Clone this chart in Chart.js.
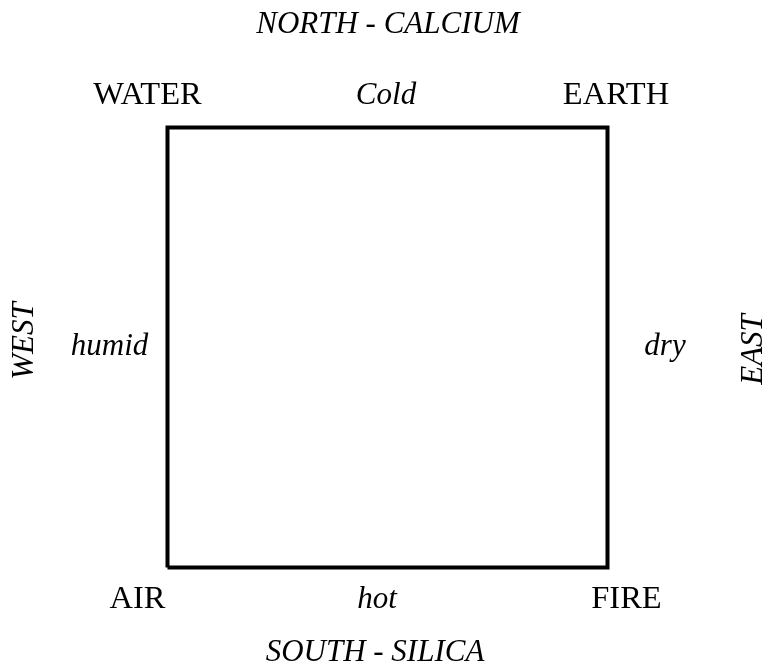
<!DOCTYPE html>
<html>
<head>
<meta charset="utf-8">
<script src="https://cdn.jsdelivr.net/npm/chart.js@4.4.1/dist/chart.umd.min.js"></script>
<style>
    html, body { margin: 0; padding: 0; background: #fff; }
    #box { width: 765px; height: 666px; }
</style>
</head>
<body>
<div id="box"><canvas id="c"></canvas></div>
<script>
    // square outline, corners in data units
    var squareX = [0, 1, 1, 0, 0];
    var squareY = [0, 0, 1, 1, 0];

    // corner elements: bottom-left, bottom-right, top-right, top-left
    var corners = ["AIR", "FIRE", "EARTH", "WATER"];
    // qualities on each side: top, bottom, left, right
    var qualities = ["Cold", "hot", "humid", "dry"];
    // compass labels: top, bottom, left, right
    var directions = ["NORTH - CALCIUM", "SOUTH - SILICA", "WEST", "EAST"];

    var points = [];
    for (var i = 0; i < squareX.length; i++) {
        points.push({x: squareX[i], y: squareY[i]});
    }

    var FONT = '"Liberation Serif", "Times New Roman", serif';

    var labelsPlugin = {
        id: 'labels',
        afterDraw: function (chart) {
            var ctx = chart.ctx;
            var sx = chart.scales.x, sy = chart.scales.y;
            var x0 = sx.getPixelForValue(0), x1 = sx.getPixelForValue(1);
            var y0 = sy.getPixelForValue(0), y1 = sy.getPixelForValue(1);
            var ym = (y0 + y1) / 2;

            function txt(s, x, y, italic, rot) {
                ctx.save();
                ctx.fillStyle = '#000';
                ctx.font = italic ? 'italic 31px ' + FONT : '32.5px ' + FONT;
                ctx.textAlign = 'center';
                ctx.textBaseline = 'alphabetic';
                ctx.translate(x, y);
                if (rot) ctx.rotate(rot);
                ctx.fillText(s, 0, 0);
                ctx.restore();
            }

            // corners
            txt(corners[0], x0 - 30, y0 + 40, false);
            txt(corners[1], x1 + 19, y0 + 40, false);
            txt(corners[2], x1 + 8.5, y1 - 23.5, false);
            txt(corners[3], x0 - 20, y1 - 23.5, false);

            // qualities
            txt(qualities[0], 386, y1 - 23.5, true);
            txt(qualities[1], 377, y0 + 40, true);
            txt(qualities[2], x0 - 58, ym + 7.5, true);
            txt(qualities[3], x1 + 57.5, ym + 7.5, true);

            // directions
            txt(directions[0], 388, y1 - 94.5, true);
            txt(directions[1], 375, y0 + 93.5, true);
            txt(directions[2], 33, ym - 6.5, true, -Math.PI / 2);
            txt(directions[3], 762, ym + 2, true, -Math.PI / 2);
        }
    };

    new Chart(document.getElementById('c'), {
        type: 'scatter',
        data: {
            datasets: [{
                data: points,
                showLine: true,
                borderColor: '#000',
                borderWidth: 4,
                borderJoinStyle: 'miter',
                pointRadius: 0,
                fill: false
            }]
        },
        options: {
            responsive: true,
            maintainAspectRatio: false,
            animation: false,
            layout: { padding: 0 },
            plugins: { legend: { display: false }, tooltip: { enabled: false } },
            scales: {
                x: { type: 'linear', display: false, min: -167.5 / 440, max: 1 + 157.5 / 440 },
                y: { type: 'linear', display: false, min: -98.5 / 440, max: 1 + 127.5 / 440 }
            }
        },
        plugins: [labelsPlugin]
    });
</script>
</body>
</html>
